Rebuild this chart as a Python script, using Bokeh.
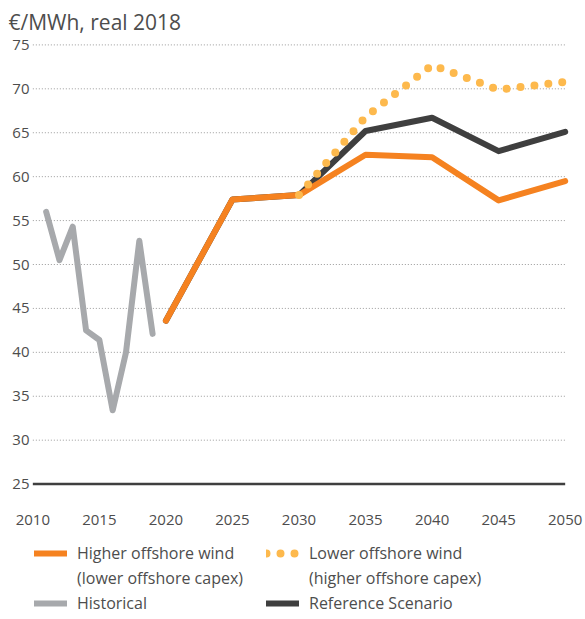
from bokeh.plotting import figure
from bokeh.layouts import column
from bokeh.models import Range1d, FixedTicker, Legend, LegendItem
from bokeh.embed import file_html
from bokeh.resources import INLINE

TITLE = "€/MWh, real 2018"

hist_years = [2011, 2012, 2013, 2014, 2015, 2016, 2017, 2018, 2019]
hist_vals = [56.0, 50.5, 54.3, 42.5, 41.4, 33.4, 40.0, 52.7, 42.1]

scen_years = [2020, 2025, 2030, 2035, 2040, 2045, 2050]
higher_wind = [43.6, 57.4, 57.9, 62.5, 62.2, 57.3, 59.5]
reference = [43.6, 57.4, 57.9, 65.2, 66.7, 62.9, 65.1]

lower_years = [2030, 2035, 2040, 2045, 2050]
lower_wind = [57.9, 66.8, 72.7, 69.9, 70.8]

x_ticks = [2010, 2015, 2020, 2025, 2030, 2035, 2040, 2045, 2050]
y_ticks = [25, 30, 35, 40, 45, 50, 55, 60, 65, 70, 75]

label_higher = ["Higher offshore wind", "(lower offshore capex)"]
label_lower = ["Lower offshore wind", "(higher offshore capex)"]
label_hist = "Historical"
label_ref = "Reference Scenario"

FONT = "Open Sans"
TEXT = "#4d4d4d"
ORANGE = "#f58220"
YELLOW = "#fdb94d"
GREY = "#a7a9ac"
DARK = "#3f3f3f"

STYLES = {
    "hist": dict(line_color=GREY, line_width=6, line_join="round", line_cap="round"),
    "ref": dict(line_color=DARK, line_width=6, line_join="round", line_cap="round"),
    "high": dict(line_color=ORANGE, line_width=6, line_join="round", line_cap="round"),
    "low": dict(line_color=YELLOW, line_width=8, line_dash="0 14", line_join="round", line_cap="round"),
}

p = figure(width=585, height=527, output_backend="svg", toolbar_location=None,
           x_range=Range1d(2009.9, 2050.4), y_range=Range1d(24.5, 75.5),
           min_border_left=31, min_border_right=15, min_border_top=0, min_border_bottom=0)
p.outline_line_color = None
p.grid.visible = False

p.title.text = TITLE
p.title.text_font = FONT
p.title.text_font_size = "21px"
p.title.text_font_style = "normal"
p.title.text_color = TEXT
p.title.offset = -23
p.title.standoff = 10

for ax in (p.xaxis[0], p.yaxis[0]):
    ax.axis_line_color = None
    ax.major_tick_line_color = None
    ax.minor_tick_line_color = None
    ax.major_tick_out = 0
    ax.major_tick_in = 0
    ax.minor_tick_out = 0
    ax.major_label_text_font = FONT
    ax.major_label_text_font_size = "15px"
    ax.major_label_text_color = TEXT
p.xaxis[0].ticker = FixedTicker(ticks=x_ticks)
p.yaxis[0].ticker = FixedTicker(ticks=y_ticks)
p.yaxis[0].major_label_standoff = 2
p.xaxis[0].major_label_standoff = 26

# dotted gridlines
grid_y = y_ticks[1:]
p.segment(x0=[x_ticks[0]] * len(grid_y), x1=[x_ticks[-1]] * len(grid_y), y0=grid_y, y1=grid_y,
          line_color="#9a9a9a", line_width=1, line_dash="1 2")
# base line at 25
p.segment(x0=[x_ticks[0]], x1=[x_ticks[-1]], y0=[y_ticks[0]], y1=[y_ticks[0]],
          line_color=DARK, line_width=2.5)

p.line(hist_years, hist_vals, **STYLES["hist"])
p.line(scen_years, reference, **STYLES["ref"])
p.line(scen_years, higher_wind, **STYLES["high"])
p.line(lower_years, lower_wind, **STYLES["low"])

# legend panel below the chart (its lines use the series data, outside its visible range)
lg = figure(width=585, height=92, output_backend="svg", toolbar_location=None,
            x_range=Range1d(0, 1), y_range=Range1d(0, 1),
            min_border_left=31, min_border_right=15, min_border_top=12, min_border_bottom=0)
lg.axis.visible = False
lg.grid.visible = False
lg.outline_line_color = None
e_hist = lg.line(hist_years, hist_vals, **STYLES["hist"])
e_ref = lg.line(scen_years, reference, **STYLES["ref"])
e_high = lg.line(scen_years, higher_wind, **STYLES["high"])
e_low = lg.line(lower_years, lower_wind, **STYLES["low"])
# continuation lines of the two-line labels carry no glyph
e_blank = lg.line(scen_years, reference, line_alpha=0)

legend = Legend(items=[
    LegendItem(label=label_higher[0], renderers=[e_high]),
    LegendItem(label=label_lower[0], renderers=[e_low]),
    LegendItem(label=label_higher[1], renderers=[e_blank]),
    LegendItem(label=label_lower[1], renderers=[e_blank]),
    LegendItem(label=label_hist, renderers=[e_hist]),
    LegendItem(label=label_ref, renderers=[e_ref]),
], orientation="horizontal", ncols=2)
legend.location = "top_left"
legend.border_line_color = None
legend.background_fill_alpha = 0
legend.label_text_font = FONT
legend.label_text_font_size = "16px"
legend.label_text_line_height = 1.0
legend.label_text_color = TEXT
legend.glyph_width = 33
legend.glyph_height = 20
legend.label_height = 20
legend.label_width = 186
legend.label_standoff = 10
legend.spacing = 3
legend.padding = 0
legend.margin = 3
lg.add_layout(legend, "center")

open("out.html", "w").write(file_html(column(p, lg), INLINE))
